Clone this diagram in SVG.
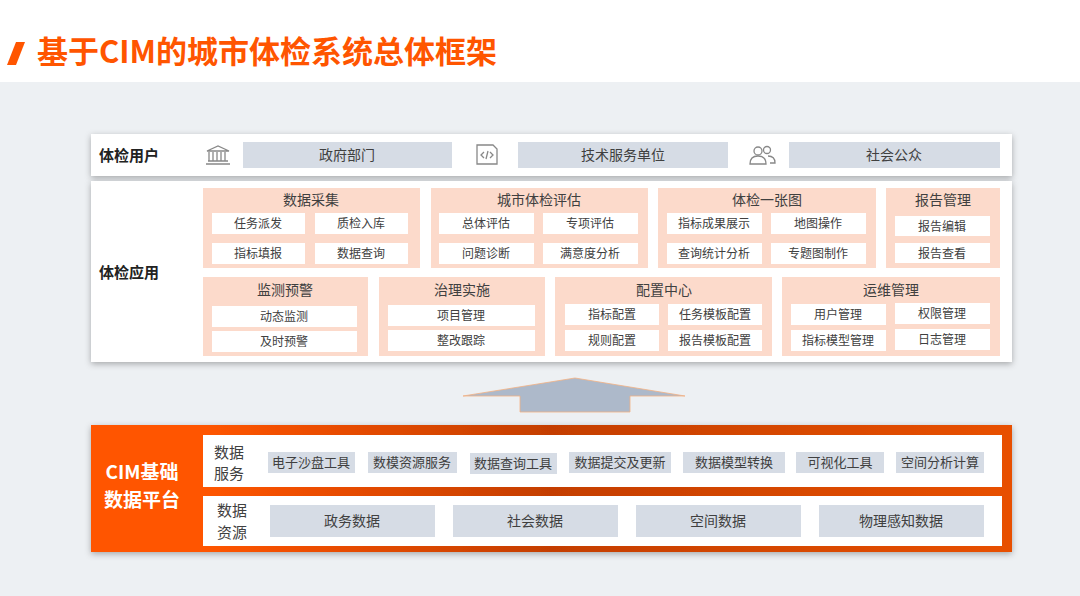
<svg xmlns="http://www.w3.org/2000/svg" width="1080" height="596" viewBox="0 0 1080 596">
<defs>
<linearGradient id="og" x1="0" x2="1" y1="0" y2="0"><stop offset="0" stop-color="#FF5500"/><stop offset="0.12" stop-color="#FF5500"/><stop offset="0.5" stop-color="#C43E00"/><stop offset="1" stop-color="#E85000"/></linearGradient>
<filter id="sh" x="-5%" y="-20%" width="110%" height="140%"><feDropShadow dx="0" dy="2" stdDeviation="3" flood-color="#000" flood-opacity="0.3"/></filter>
</defs>
<style>
text{font-family:"Noto Sans CJK SC","Noto Sans",sans-serif;text-anchor:middle;fill:#404040}
.grp{fill:#FCDACB}
.it{fill:#fff}
.gb{fill:#D6DCE5}
.t14{font-size:14px}
.t12{font-size:12px}
.t13{font-size:13px}
.lbl{font-size:15px;font-weight:bold;text-anchor:start;fill:#222}
.ic{fill:none;stroke:#888;stroke-width:1.3}
</style>
<rect width="1080" height="596" fill="#EDF0F3"/>
<rect width="1080" height="82" fill="#fff"/>
<polygon points="7,65 16,42 25,42 16,65" fill="#FF5500"/>
<text x="37" y="63" style="font-size:31px;font-weight:bold;fill:#FF5500;text-anchor:start">基于CIM的城市体检系统总体框架</text>

<g id="users">
<rect x="91" y="134" width="921" height="42" fill="#fff" filter="url(#sh)"/>
<text class="lbl" x="99" y="161">体检用户</text>
<g class="ic"><path d="M206 164h24M208 161h20M209 152v9M213 152v9M217 152v9M221 152v9M225 152v9M207 151h22l-11-5z"/></g>
<rect class="gb" x="243" y="142" width="209" height="26"/><text class="t14" x="347" y="160">政府部门</text>
<g class="ic"><path d="M477 145h16l4 4v15h-20z"/><path d="M484 152l-3 3 3 3M490 152l3 3-3 3M488 151l-2 8"/></g>
<rect class="gb" x="518" y="142" width="210" height="26"/><text class="t14" x="623" y="160">技术服务单位</text>
<g class="ic"><circle cx="758" cy="151" r="4"/><path d="M750 164c0-6 4-8 8-8s8 2 8 8z"/><circle cx="767" cy="150" r="3.5"/><path d="M768 156c4 0 7 2 7 7h-5"/></g>
<rect class="gb" x="789" y="142" width="211" height="26"/><text class="t14" x="894" y="160">社会公众</text>
</g>

<g id="app">
<rect x="91" y="181" width="921" height="181" fill="#fff" filter="url(#sh)"/>
<text class="lbl" x="99" y="278">体检应用</text>
<g id="g1"><rect class="grp" x="203" y="188" width="217" height="80"/><text class="t14" x="311" y="205">数据采集</text>
<rect class="it" x="212" y="213" width="93" height="21"/><text class="t12" x="258" y="228">任务派发</text>
<rect class="it" x="315" y="213" width="93" height="21"/><text class="t12" x="361" y="228">质检入库</text>
<rect class="it" x="212" y="243" width="93" height="21"/><text class="t12" x="258" y="258">指标填报</text>
<rect class="it" x="315" y="243" width="93" height="21"/><text class="t12" x="361" y="258">数据查询</text></g>
<g id="g2"><rect class="grp" x="431" y="188" width="217" height="80"/><text class="t14" x="539" y="205">城市体检评估</text>
<rect class="it" x="439" y="213" width="95" height="21"/><text class="t12" x="486" y="228">总体评估</text>
<rect class="it" x="543" y="213" width="95" height="21"/><text class="t12" x="590" y="228">专项评估</text>
<rect class="it" x="439" y="243" width="95" height="21"/><text class="t12" x="486" y="258">问题诊断</text>
<rect class="it" x="543" y="243" width="95" height="21"/><text class="t12" x="590" y="258">满意度分析</text></g>
<g id="g3"><rect class="grp" x="658" y="188" width="218" height="80"/><text class="t14" x="767" y="205">体检一张图</text>
<rect class="it" x="667" y="213" width="95" height="21"/><text class="t12" x="714" y="228">指标成果展示</text>
<rect class="it" x="771" y="213" width="95" height="21"/><text class="t12" x="818" y="228">地图操作</text>
<rect class="it" x="667" y="243" width="95" height="21"/><text class="t12" x="714" y="258">查询统计分析</text>
<rect class="it" x="771" y="243" width="95" height="21"/><text class="t12" x="818" y="258">专题图制作</text></g>
<g id="g4"><rect class="grp" x="886" y="188" width="114" height="80"/><text class="t14" x="943" y="205">报告管理</text>
<rect class="it" x="895" y="216" width="95" height="20"/><text class="t12" x="942" y="231">报告编辑</text>
<rect class="it" x="895" y="243" width="95" height="20"/><text class="t12" x="942" y="258">报告查看</text></g>
<g id="g5"><rect class="grp" x="203" y="277" width="165" height="79"/><text class="t14" x="285" y="295">监测预警</text>
<rect class="it" x="212" y="306" width="145" height="21"/><text class="t12" x="284" y="321">动态监测</text>
<rect class="it" x="212" y="331" width="145" height="21"/><text class="t12" x="284" y="346">及时预警</text></g>
<g id="g6"><rect class="grp" x="379" y="277" width="166" height="79"/><text class="t14" x="462" y="295">治理实施</text>
<rect class="it" x="388" y="305" width="147" height="21"/><text class="t12" x="461" y="320">项目管理</text>
<rect class="it" x="388" y="330" width="147" height="21"/><text class="t12" x="461" y="345">整改跟踪</text></g>
<g id="g7"><rect class="grp" x="555" y="277" width="217" height="79"/><text class="t14" x="664" y="295">配置中心</text>
<rect class="it" x="565" y="304" width="94" height="21"/><text class="t12" x="612" y="319">指标配置</text>
<rect class="it" x="668" y="304" width="94" height="21"/><text class="t12" x="715" y="319">任务模板配置</text>
<rect class="it" x="565" y="330" width="94" height="21"/><text class="t12" x="612" y="345">规则配置</text>
<rect class="it" x="668" y="330" width="94" height="21"/><text class="t12" x="715" y="345">报告模板配置</text></g>
<g id="g8"><rect class="grp" x="782" y="277" width="218" height="79"/><text class="t14" x="891" y="295">运维管理</text>
<rect class="it" x="791" y="304" width="95" height="21"/><text class="t12" x="838" y="319">用户管理</text>
<rect class="it" x="895" y="303" width="95" height="21"/><text class="t12" x="942" y="318">权限管理</text>
<rect class="it" x="791" y="330" width="95" height="21"/><text class="t12" x="838" y="345">指标模型管理</text>
<rect class="it" x="895" y="329" width="95" height="21"/><text class="t12" x="942" y="344">日志管理</text></g>
</g>

<g id="connectors">
<polygon points="463,396 575,378 685,396 630,396 630,412 520,412 520,396" fill="#ADB9CA" stroke="#F4B183" stroke-width="0.8"/>
</g>

<g id="platform">
<rect x="91" y="425" width="921" height="127" fill="url(#og)" filter="url(#sh)"/>
<text x="142" y="479" style="font-size:19px;font-weight:bold;fill:#fff">CIM基础</text>
<text x="142" y="507" style="font-size:19px;font-weight:bold;fill:#fff">数据平台</text>
<rect x="203" y="435" width="799" height="52" fill="#fff"/>
<text x="229" y="458" style="font-size:15px">数据</text><text x="229" y="479" style="font-size:15px">服务</text>
<rect class="gb" x="268" y="452" width="87" height="21"/><text class="t13" x="311" y="467">电子沙盘工具</text>
<rect class="gb" x="368" y="452" width="89" height="21"/><text class="t13" x="412" y="467">数模资源服务</text>
<rect class="gb" x="470" y="453" width="87" height="21"/><text class="t13" x="513" y="468">数据查询工具</text>
<rect class="gb" x="569" y="452" width="102" height="21"/><text class="t13" x="620" y="467">数据提交及更新</text>
<rect class="gb" x="683" y="452" width="102" height="21"/><text class="t13" x="734" y="467">数据模型转换</text>
<rect class="gb" x="796" y="452" width="88" height="21"/><text class="t13" x="840" y="467">可视化工具</text>
<rect class="gb" x="896" y="452" width="88" height="21"/><text class="t13" x="940" y="467">空间分析计算</text>
<rect x="203" y="496" width="799" height="50" fill="#fff"/>
<text x="232" y="516" style="font-size:15px">数据</text><text x="232" y="538" style="font-size:15px">资源</text>
<rect class="gb" x="270" y="505" width="165" height="32"/><text class="t14" x="352" y="526">政务数据</text>
<rect class="gb" x="453" y="505" width="165" height="32"/><text class="t14" x="535" y="526">社会数据</text>
<rect class="gb" x="636" y="505" width="165" height="32"/><text class="t14" x="718" y="526">空间数据</text>
<rect class="gb" x="819" y="505" width="165" height="32"/><text class="t14" x="901" y="526">物理感知数据</text>
</g>
</svg>
